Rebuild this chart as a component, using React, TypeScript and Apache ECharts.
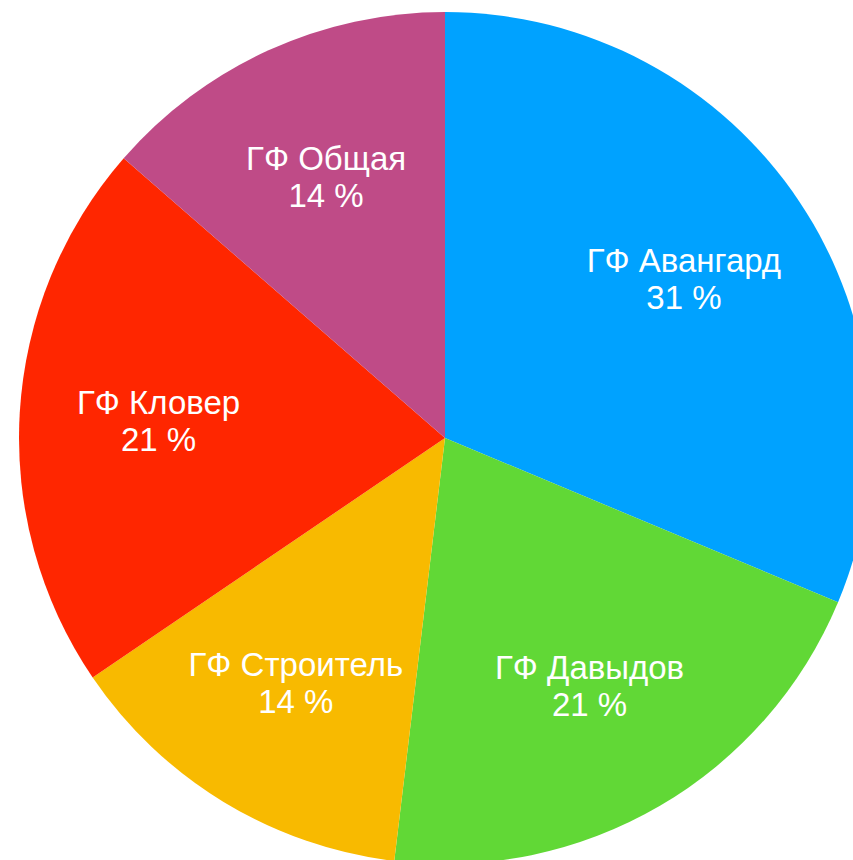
import React, { useEffect, useRef } from "react";
import * as echarts from "echarts";

const categories = ["ГФ Авангард", "ГФ Давыдов", "ГФ Строитель", "ГФ Кловер", "ГФ Общая"];
const values = [31.3, 20.6, 13.6, 20.9, 13.6];
const colors = ["#00A2FF", "#61D836", "#F8BA00", "#FF2600", "#BF4B87"];

export default function App() {
  const ref = useRef<HTMLDivElement>(null);
  useEffect(() => {
    if (!ref.current) return;
    const chart = echarts.init(ref.current, undefined, { renderer: "svg" });
    const data = categories.map((name, i) => ({
      name,
      value: values[i],
      itemStyle: { color: colors[i] },
    }));
    const labelData = categories.map((name, i) => ({
      name,
      value: values[i],
      itemStyle: { color: "rgba(0,0,0,0)" },
    }));
    chart.setOption({
      animation: false,
      series: [
        {
          type: "pie",
          center: [445, 438],
          radius: [0, 426],
          startAngle: 90,
          clockwise: true,
          silent: true,
          itemStyle: { borderWidth: 0 },
          label: { show: false },
          labelLine: { show: false },
          emphasis: { disabled: true },
          data,
        },
        {
          type: "pie",
          center: [445, 438],
          radius: [142, 426],
          startAngle: 90,
          clockwise: true,
          silent: true,
          itemStyle: { borderWidth: 0 },
          labelLine: { show: false },
          emphasis: { disabled: true },
          label: {
            show: true,
            position: "inside",
            color: "#ffffff",
            fontFamily: "Liberation Sans, Arial, Helvetica, sans-serif",
            fontSize: 33,
            lineHeight: 37,
            textBorderWidth: 0,
            formatter: (p: any) => `${p.name}\n${Math.round(p.value)} %`,
          },
          data: labelData,
        },
      ],
    });
    return () => chart.dispose();
  }, []);
  return (
    <div
      ref={ref}
      style={{ position: "absolute", left: 0, top: 0, width: 853, height: 860, background: "#ffffff" }}
    />
  );
}
